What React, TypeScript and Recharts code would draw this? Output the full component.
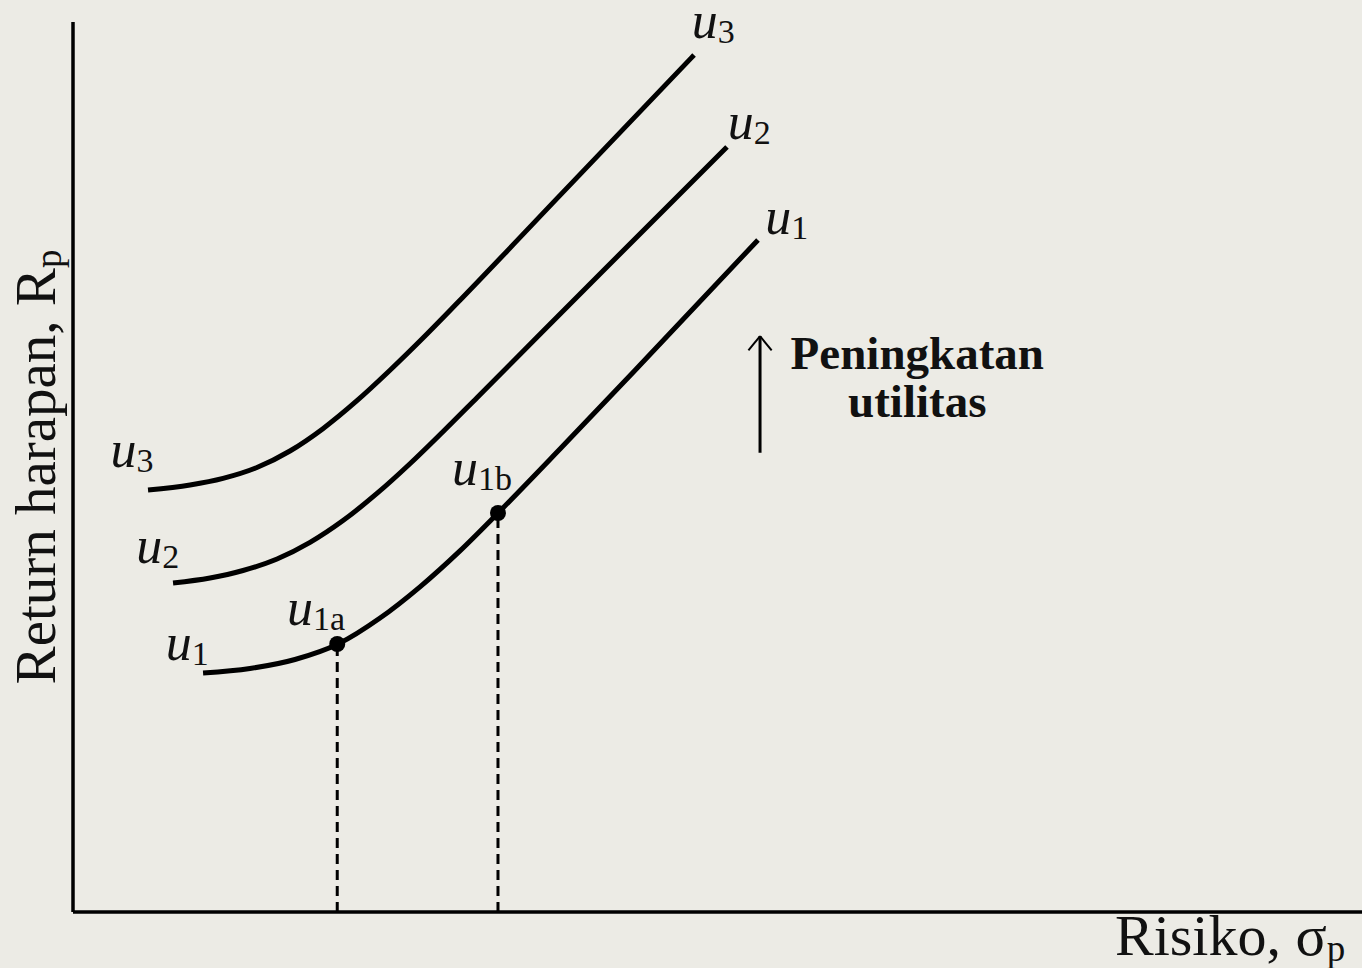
import React from 'react';
import {
  ComposedChart,
  Line,
  XAxis,
  YAxis,
  ReferenceLine,
  ReferenceDot,
} from 'recharts';

/* ---------- DATA (risk 0-100, return 0-100) ---------- */
const u1Curve = [
  { x: 10.09, y: 26.85 }, { x: 13.73, y: 27.36 }, { x: 17.22, y: 28.37 },
  { x: 20.56, y: 30.11 }, { x: 23.82, y: 33.03 }, { x: 26.92, y: 36.54 },
  { x: 30.02, y: 40.58 }, { x: 32.97, y: 44.83 }, { x: 37.78, y: 52.02 },
  { x: 43.99, y: 61.46 }, { x: 53.14, y: 75.51 },
];

const u2Curve = [
  { x: 7.76, y: 36.97 }, { x: 10.63, y: 37.53 }, { x: 13.19, y: 38.37 },
  { x: 15.83, y: 39.66 }, { x: 18.39, y: 41.53 }, { x: 20.95, y: 43.98 },
  { x: 23.58, y: 47.03 }, { x: 26.14, y: 50.37 }, { x: 28.7, y: 53.97 },
  { x: 31.34, y: 57.79 }, { x: 40.88, y: 71.69 }, { x: 50.74, y: 85.96 },
];

const u3Curve = [
  { x: 5.82, y: 47.42 }, { x: 9.08, y: 47.98 }, { x: 11.64, y: 48.72 },
  { x: 14.27, y: 49.94 }, { x: 16.83, y: 51.8 }, { x: 19.39, y: 54.31 },
  { x: 22.03, y: 57.45 }, { x: 24.59, y: 60.87 }, { x: 27.15, y: 64.49 },
  { x: 29.79, y: 68.39 }, { x: 37.78, y: 80.52 }, { x: 48.18, y: 96.29 },
];

const points = [
  { x: 20.5, y: 30.11, sub: '1a', lx: 16.6, ly: 32.3 },
  { x: 32.97, y: 44.83, sub: '1b', lx: 29.4, ly: 48.0 },
];

// curve name labels: [subscript, x, y]
const curveLabels: [string, number, number][] = [
  ['3', 2.9, 50.0],
  ['2', 4.9, 39.2],
  ['1', 7.2, 28.3],
  ['3', 48.0, 98.2],
  ['2', 50.8, 86.9],
  ['1', 53.7, 76.2],
];

const arrowX = 53.3;
const arrowBottom = 51.6;
const arrowTop = 64.7;
const arrowHead = [
  { x: 52.4, y: 63.1 },
  { x: 54.2, y: 63.1 },
];

const noteLines = ['Peningkatan', 'utilitas'];
const noteY = [61.0, 55.6];

const FONT = "'Liberation Serif', 'DejaVu Serif', serif";

const uLabel = (sub: string) => (props: any) => (
  <text
    x={props.cx}
    y={props.cy}
    fontFamily={FONT}
    fontSize={52}
    fontStyle="italic"
    fill="#111"
  >
    u
    <tspan fontStyle="normal" fontSize={34} dy={5}>
      {sub}
    </tspan>
  </text>
);

export default function App() {
  return (
    <div
      style={{
        position: 'absolute',
        left: 0,
        top: 0,
        width: 1362,
        height: 968,
        backgroundColor: '#ecebe5',
      }}
    >
      <ComposedChart
        width={1362}
        height={968}
        margin={{ top: 22, right: 0, bottom: 56, left: 73 }}
      >
        <XAxis type="number" dataKey="x" domain={[0, 100]} allowDataOverflow hide />
        <YAxis type="number" dataKey="y" domain={[0, 100]} allowDataOverflow hide />

        {/* axes */}
        <ReferenceLine x={0} stroke="#000" strokeWidth={3.5} />
        <ReferenceLine y={0} stroke="#000" strokeWidth={3.5} />

        {points.map((p, i) => (
          <ReferenceLine
            key={'d' + i}
            segment={[
              { x: p.x, y: 0 },
              { x: p.x, y: p.y },
            ]}
            stroke="#000"
            strokeWidth={3}
            strokeDasharray="10 6"
          />
        ))}

        <Line
          data={u1Curve}
          dataKey="y"
          type="monotone"
          stroke="#000"
          strokeWidth={5}
          dot={false}
          isAnimationActive={false}
        />
        <Line
          data={u2Curve}
          dataKey="y"
          type="monotone"
          stroke="#000"
          strokeWidth={5}
          dot={false}
          isAnimationActive={false}
        />
        <Line
          data={u3Curve}
          dataKey="y"
          type="monotone"
          stroke="#000"
          strokeWidth={5}
          dot={false}
          isAnimationActive={false}
        />

        {points.map((p, i) => (
          <ReferenceDot
            key={'p' + i}
            x={p.x}
            y={p.y}
            r={8}
            fill="#000"
            stroke="none"
          />
        ))}
        {points.map((p, i) => (
          <ReferenceDot
            key={'pl' + i}
            x={p.lx}
            y={p.ly}
            ifOverflow="visible"
            shape={uLabel(p.sub)}
          />
        ))}
        {curveLabels.map(([sub, x, y], i) => (
          <ReferenceDot
            key={'cl' + i}
            x={x}
            y={y}
            ifOverflow="visible"
            shape={uLabel(sub)}
          />
        ))}

        {/* arrow for increasing utility */}
        <ReferenceLine
          segment={[
            { x: arrowX, y: arrowBottom },
            { x: arrowX, y: arrowTop },
          ]}
          stroke="#000"
          strokeWidth={3}
        />
        {arrowHead.map((h, i) => (
          <ReferenceLine
            key={'ah' + i}
            segment={[
              { x: h.x, y: h.y },
              { x: arrowX, y: arrowTop },
            ]}
            stroke="#000"
            strokeWidth={2}
          />
        ))}
        {noteLines.map((t, i) => (
          <ReferenceDot
            key={'n' + i}
            x={65.5}
            y={noteY[i]}
            ifOverflow="visible"
            shape={(props: any) => (
              <text
                x={props.cx}
                y={props.cy}
                textAnchor="middle"
                fontFamily={FONT}
                fontSize={47}
                fontWeight="bold"
                fill="#111"
              >
                {t}
              </text>
            )}
          />
        ))}

        {/* axis titles */}
        <ReferenceDot
          x={98.7}
          y={-4.8}
          ifOverflow="visible"
          shape={(props: any) => (
            <text
              x={props.cx}
              y={props.cy}
              textAnchor="end"
              fontFamily={FONT}
              fontSize={58}
              fill="#111"
            >
              Risiko, σ
              <tspan fontSize={37} dy={6}>
                p
              </tspan>
            </text>
          )}
        />
        <ReferenceDot
          x={-1.4}
          y={50}
          ifOverflow="visible"
          shape={(props: any) => (
            <text
              x={props.cx}
              y={props.cy}
              textAnchor="middle"
              transform={`rotate(-90 ${props.cx} ${props.cy})`}
              fontFamily={FONT}
              fontSize={57}
              fill="#111"
            >
              Return harapan, R
              <tspan fontSize={37} dy={6}>
                p
              </tspan>
            </text>
          )}
        />
      </ComposedChart>
    </div>
  );
}
